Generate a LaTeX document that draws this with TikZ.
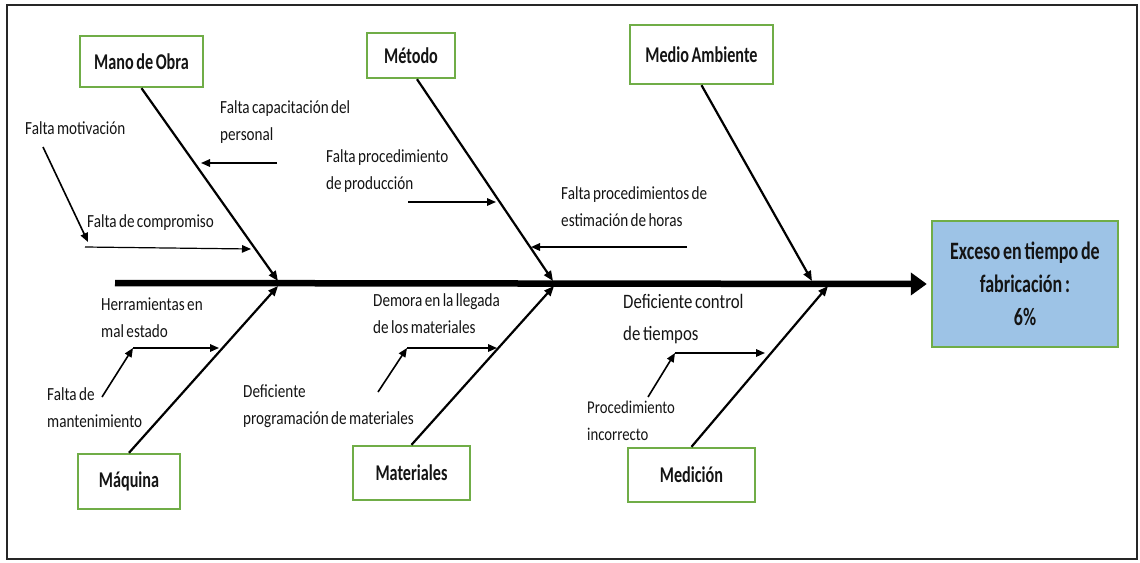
\documentclass[tikz,border=0pt]{standalone}
\usepackage{fontspec}
\setmainfont{Carlito}[FakeStretch=0.82, WordSpace=0.7]
\newfontfamily\headfont{Carlito}[FakeStretch=0.72, WordSpace=0.7]
\usetikzlibrary{arrows.meta}
\definecolor{boxgreen}{RGB}{112,173,71}
\definecolor{effblue}{RGB}{157,195,230}
\definecolor{ink}{RGB}{20,20,20}

\begin{document}
\begin{tikzpicture}[x=1pt,y=-1pt,
  cat/.style={draw=boxgreen, line width=2.4pt, fill=white, inner sep=0pt, text=ink,
              font=\headfont\fontsize{22.5}{26}\selectfont\bfseries},
  cause/.style={font=\fontsize{18.5}{27}\selectfont, align=left, anchor=west,
                inner sep=0pt, text=ink},
  bone/.style={line width=2.2pt, -{Triangle[length=10pt,width=8pt]}},
  sub/.style={line width=1.6pt, -{Triangle[length=9pt,width=7.5pt]}},
  spine/.style={line width=6.5pt, -{Triangle[length=16pt,width=22pt]}}
]
\useasboundingbox (0,0) rectangle (1140,562);

% outer frame
\draw[line width=2pt, black!85] (7,5) rectangle (1137,559);

% effect
\node[draw=boxgreen, line width=2.4pt, fill=effblue, minimum width=186pt,
      minimum height=126pt, align=center, inner sep=0pt, text=ink,
      font=\headfont\fontsize{25}{33}\selectfont\bfseries] (eff) at (1025,284)
      {Exceso en tiempo de\\fabricación :\\6\%};

% main spine
\coordinate (s0) at (115,283);
\draw[spine] (s0) -- ([xshift=-4pt]eff.west);

% categories
\node[cat, minimum width=123pt, minimum height=51pt] (mo)  at (141.5,61.5) {Mano de Obra};
\node[cat, minimum width=88pt,  minimum height=45pt] (met) at (411,55.5)   {Método};
\node[cat, minimum width=143pt, minimum height=59pt] (ma)  at (701.5,54.5) {Medio Ambiente};
\node[cat, minimum width=102pt, minimum height=55pt] (maq) at (129,481.5)  {Máquina};
\node[cat, minimum width=117pt, minimum height=54pt] (mat) at (411.5,473)  {Materiales};
\node[cat, minimum width=127pt, minimum height=54pt] (med) at (691.5,475)  {Medición};

% bone tips on the spine
\coordinate (tmo)  at (278,281);
\coordinate (tmet) at (553,281);
\coordinate (tma)  at (812,281);
\coordinate (tmaq) at (278,286);
\coordinate (tmat) at (554,286);
\coordinate (tmed) at (828,286);

\draw[bone] (mo.south) -- (tmo);
\draw[bone] ([xshift=6pt]met.south) -- (tmet);
\draw[bone] (ma.south) -- (tma);
\draw[bone] (maq.north) -- (tmaq);
\draw[bone] (mat.north) -- (tmat);
\draw[bone] (med.north) -- (tmed);

% causes: Mano de Obra
\node[cause] (c1) at (220,122.5) {Falta capacitación del\\personal};
\node[cause] (c2) at (25,128) {Falta motivación};
\node[cause] (c3) at (87,223) {Falta de compromiso};
\coordinate (a1s) at (277,163); \coordinate (a1e) at (201,163);
\coordinate (a2s) at (43,147);  \coordinate (a2e) at (88,242);
\coordinate (a3s) at (85,247);  \coordinate (a3e) at (251,249);
\draw[sub] (a1s) -- (a1e);
\draw[sub] (a2s) -- (a2e);
\draw[sub, line width=1.2pt] (a3s) -- (a3e);

% causes: Método
\node[cause] (c4) at (326,171.5) {Falta procedimiento\\de producción};
\node[cause] (c5) at (561,207) {Falta procedimientos de\\estimación de horas};
\coordinate (a4s) at (408,202); \coordinate (a4e) at (496,202);
\coordinate (a5s) at (687,247); \coordinate (a5e) at (531,247);
\draw[sub] (a4s) -- (a4e);
\draw[sub] (a5s) -- (a5e);

% causes: Máquina
\node[cause] (c6) at (101,317.5) {Herramientas en\\mal estado};
\node[cause] (c7) at (47,407.5) {Falta de\\mantenimiento};
\coordinate (a6s) at (133,348); \coordinate (a6e) at (219,348);
\coordinate (a7s) at (102,397);
\draw[sub] (a6s) -- (a6e);
\draw[sub] (a7s) -- (a6s);

% causes: Materiales
\node[cause] (c8) at (373,313.5) {Demora en la llegada\\de los materiales};
\node[cause] (c9) at (243,406) {Deficiente\\programación de materiales};
\coordinate (a8s) at (407,348); \coordinate (a8e) at (497,348);
\coordinate (a9s) at (378,392);
\draw[sub] (a8s) -- (a8e);
\draw[sub] (a9s) -- (a8s);

% causes: Medición
\node[cause, font=\fontsize{20.5}{32}\selectfont] (c10) at (623,319) {Deficiente control\\de tiempos};
\node[cause, font=\fontsize{18}{27}\selectfont] (c11) at (587,420.5) {Procedimiento\\incorrecto};
\coordinate (a10s) at (675,353); \coordinate (a10e) at (765,353);
\coordinate (a11s) at (648,397);
\draw[sub] (a10s) -- (a10e);
\draw[sub] (a11s) -- (a10s);

\end{tikzpicture}
\end{document}
